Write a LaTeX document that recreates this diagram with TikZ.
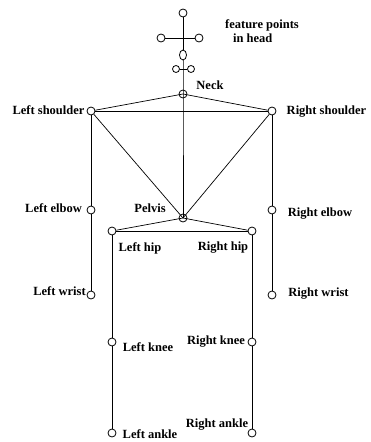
\documentclass[tikz,border=0pt]{standalone}
\usepackage{fontspec}
\setmainfont{Liberation Serif}
\usepackage{tikz}
\usetikzlibrary{positioning, shapes.geometric}

\begin{document}
\begin{tikzpicture}[
  x=1pt, y=-1pt,
  joint/.style={draw, circle, line width=0.8pt, inner sep=0pt,
                minimum size=8pt},
  smalljoint/.style={joint, minimum size=7pt},
  headjoint/.style={draw, ellipse, line width=0.8pt, inner sep=0pt,
                    minimum width=7pt, minimum height=10pt},
  tag/.style={font=\bfseries\fontsize{12.5}{14}\selectfont, inner sep=0pt},
  bone/.style={line width=0.7pt}
]
\useasboundingbox (0,0) rectangle (371,442);

%% Head feature points
\node[joint] (htop) at (183,13) {};
\node[joint] (hleft) at (161,38) {};
\node[joint] (hright) at (199,38) {};
\node[headjoint] (hmid) at (183,55) {};
\node[smalljoint] (hlow1) at (176,69) {};
\node[smalljoint] (hlow2) at (191,69) {};

%% Trunk
\node[joint] (neck) at (183,94) {};
\node[joint] (pelvis) at (183,218) {};

%% Arms
\node[joint] (lsh) at (91,111) {};
\node[joint] (rsh) at (272,111) {};
\node[joint] (lelb) at (91,210) {};
\node[joint] (relb) at (272,210) {};
\node[joint] (lwr) at (91,295) {};
\node[joint] (rwr) at (272,295) {};

%% Legs
\node[joint] (lhip) at (112,231) {};
\node[joint] (rhip) at (252,231) {};
\node[joint] (lknee) at (112,342) {};
\node[joint] (rknee) at (252,342) {};
\node[joint] (lank) at (112,433) {};
\node[joint] (rank) at (252,433) {};

%% Bones
\draw[bone] (htop) -- (hmid);
\draw[bone] (hleft) -- (hright);
\draw[bone] (hlow1) -- (hlow2);
\draw[bone] (hmid) -- (neck.center) -- (pelvis.center);
\draw[bone] (neck.center) -- (lsh);
\draw[bone] (neck.center) -- (rsh);
\draw[bone] (lsh) -- (rsh);
\draw[bone] (lsh) -- (pelvis.center);
\draw[bone] (rsh) -- (pelvis.center);
\draw[bone] (pelvis.center) -- (lhip);
\draw[bone] (pelvis.center) -- (rhip);
\draw[bone] (lhip) -- (rhip);
\draw[bone] (lsh) -- (lelb) -- (lwr);
\draw[bone] (rsh) -- (relb) -- (rwr);
\draw[bone] (lhip) -- (lknee) -- (lank);
\draw[bone] (rhip) -- (rknee) -- (rank);

%% Labels
\node[tag, align=left] (headtxt) at (262,31)
  {feature points\\\hspace{8pt}in head};
\node[tag] (necktxt) at (210,85) {Neck};
\node[tag] (lshtxt) at (48.5,110) {Left shoulder};
\node[tag] (rshtxt) at (326.5,112) {Right shoulder};
\node[tag] (lelbtxt) at (53.5,208) {Left elbow};
\node[tag] (pelvistxt) at (150,208) {Pelvis};
\node[tag] (relbtxt) at (320,214) {Right elbow};
\node[tag] (lhiptxt) at (140,248) {Left hip};
\node[tag] (rhiptxt) at (223,248) {Right hip};
\node[tag] (lwrtxt) at (59.5,291) {Left wrist};
\node[tag] (rwrtxt) at (318.5,294) {Right wrist};
\node[tag] (lkneetxt) at (148,347) {Left knee};
\node[tag] (rkneetxt) at (216,342) {Right knee};
\node[tag] (lanktxt) at (150,434) {Left ankle};
\node[tag] (ranktxt) at (217,425) {Right ankle};

\end{tikzpicture}
\end{document}
